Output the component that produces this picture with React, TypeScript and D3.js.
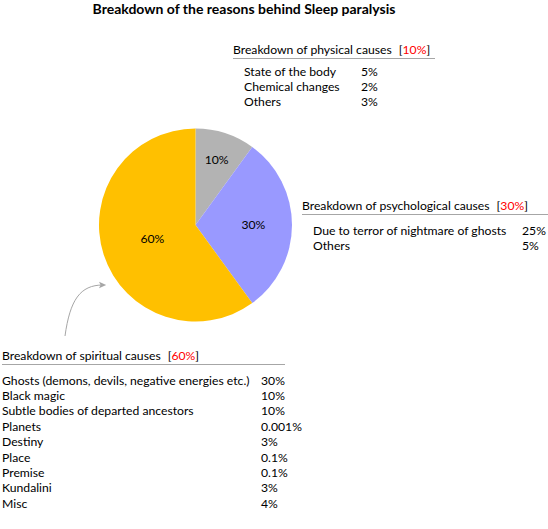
import React from "react";
import * as d3 from "d3";

const title = "Breakdown of the reasons behind Sleep paralysis";

const mainCategories = ["Physical", "Psychological", "Spiritual"];
const mainValues = [10, 30, 60];
const mainColors = ["#b3b3b3", "#9999ff", "#ffc000"];

const physicalItems = ["State of the body", "Chemical changes", "Others"];
const physicalValues = ["5%", "2%", "3%"];

const psychItems = ["Due to terror of nightmare of ghosts", "Others"];
const psychValues = ["25%", "5%"];

const spiritualItems = [
  "Ghosts (demons, devils, negative energies etc.)",
  "Black magic",
  "Subtle bodies of departed ancestors",
  "Planets",
  "Destiny",
  "Place",
  "Premise",
  "Kundalini",
  "Misc",
];
const spiritualValues = ["30%", "10%", "10%", "0.001%", "3%", "0.1%", "0.1%", "3%", "4%"];

const W = 548;
const H = 529;
const FONT = "Lato, 'Open Sans', sans-serif";
const FS = 12.2;
const LABEL_R = [0.71, 0.6, 0.47];

type BoxProps = {
  x: number;
  y: number;
  lineEnd: number;
  label: string;
  pct: string;
  items: string[];
  values: string[];
  indent: number;
  valueX: number;
  lineGap: number;
  firstGap: number;
};

function Box({ x, y, lineEnd, label, pct, items, values, indent, valueX, lineGap, firstGap }: BoxProps) {
  return (
    <g fontFamily={FONT} fontSize={FS} fill="#000">
      <text x={x} y={y}>
        {label}
        <tspan dx={7}>[</tspan>
        <tspan fill="#ff0000">{pct}</tspan>
        <tspan>]</tspan>
      </text>
      <line x1={x} x2={lineEnd} y1={y + 4.5} y2={y + 4.5} stroke="#a6a6a6" strokeWidth={1} />
      {items.map((it, i) => (
        <g key={it}>
          <text x={x + indent} y={y + firstGap + i * lineGap}>{it}</text>
          <text x={valueX} y={y + firstGap + i * lineGap}>{values[i]}</text>
        </g>
      ))}
    </g>
  );
}

export default function App() {
  const cx = 195.5;
  const cy = 225;
  const r = 96.5;
  const pie = d3.pie<number>().sort(null).value((d) => d)(mainValues);
  const arc = d3.arc<d3.PieArcDatum<number>>().innerRadius(0).outerRadius(r);

  return (
    <svg
      width={W}
      height={H}
      viewBox={`0 0 ${W} ${H}`}
      style={{ position: "absolute", left: 0, top: 0, background: "#fff" }}
    >
      <text x={244} y={14} textAnchor="middle" fontFamily={FONT} fontSize={14} fontWeight="bold">
        {title}
      </text>

      <g transform={`translate(${cx},${cy})`}>
        {pie.map((p, i) => (
          <path key={mainCategories[i]} d={arc(p) || ""} fill={mainColors[i]} />
        ))}
        {pie.map((p, i) => {
          const a = (p.startAngle + p.endAngle) / 2;
          const rr = r * LABEL_R[i];
          return (
            <text
              key={"l" + i}
              x={Math.sin(a) * rr}
              y={-Math.cos(a) * rr}
              dy="0.35em"
              textAnchor="middle"
              fontFamily={FONT}
              fontSize={FS}
            >
              {mainValues[i]}%
            </text>
          );
        })}
      </g>

      <defs>
        <marker id="ah" viewBox="0 0 10 10" refX="5" refY="5" markerWidth="8" markerHeight="8" orient="auto">
          <path d="M0,1 L9,5 L0,9 L2,5 Z" fill="#a6a6a6" />
        </marker>
      </defs>
      <path
        d="M65,336 C70,300 80,285 103,285"
        fill="none"
        stroke="#a6a6a6"
        strokeWidth={1}
        markerEnd="url(#ah)"
      />

      <Box
        x={233}
        y={54}
        lineEnd={435}
        label="Breakdown of physical causes"
        pct="10%"
        items={physicalItems}
        values={physicalValues}
        indent={11}
        valueX={361}
        lineGap={15.3}
        firstGap={21.5}
      />
      <Box
        x={302}
        y={210}
        lineEnd={548}
        label="Breakdown of psychological causes"
        pct="30%"
        items={psychItems}
        values={psychValues}
        indent={11}
        valueX={522}
        lineGap={15.3}
        firstGap={24.5}
      />
      <Box
        x={2}
        y={360}
        lineEnd={285}
        label="Breakdown of spiritual causes"
        pct="60%"
        items={spiritualItems}
        values={spiritualValues}
        indent={0}
        valueX={261}
        lineGap={15.4}
        firstGap={24.5}
      />
    </svg>
  );
}
